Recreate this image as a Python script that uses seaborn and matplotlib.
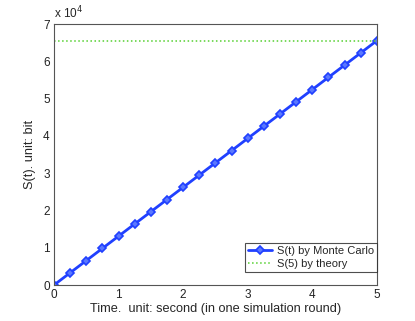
import numpy as np
import pandas as pd
import matplotlib
matplotlib.use('Agg')
import matplotlib.pyplot as plt
import seaborn as sns

# data
t = [0, 0.25, 0.5, 0.75, 1.0, 1.25, 1.5, 1.75, 2.0, 2.25, 2.5,
     2.75, 3.0, 3.25, 3.5, 3.75, 4.0, 4.25, 4.5, 4.75, 5.0]
s_mc = [0, 3277, 6554, 9830, 13107, 16384, 19661, 22938, 26214, 29491, 32768,
        36045, 39322, 42598, 45875, 49152, 52429, 55706, 58982, 62259, 65536]
theory_t = [0, 5]
theory_s = [65536, 65536]
yticks = [0, 10000, 20000, 30000, 40000, 50000, 60000, 70000]
ytick_labels = ['0', '1', '2', '3', '4', '5', '6', '7']

sns.set_style('white')
plt.rcParams['font.family'] = ['Liberation Sans', 'DejaVu Sans']
plt.rcParams['font.size'] = 8.5

fig = plt.figure(figsize=(4.15, 3.21), dpi=100)
ax = fig.add_axes([0.130, 0.112, 0.778, 0.813])

df = pd.DataFrame({'t': t, 's': s_mc})
sns.lineplot(data=df, x='t', y='s', ax=ax, color='#2040ff', linewidth=2,
             marker='D', markersize=4, markerfacecolor='#5a78ff',
             markeredgecolor='#2040ff', markeredgewidth=1.2,
             label='S(t) by Monte Carlo')
df2 = pd.DataFrame({'t': theory_t, 's': theory_s})
sns.lineplot(data=df2, x='t', y='s', ax=ax, color='#55d030', linewidth=1.1,
             linestyle=':', label='S(5) by theory')

ax.set_xlim(0, 5)
ax.set_ylim(0, 70000)
ax.set_yticks(yticks)
ax.set_yticklabels(ytick_labels)
ax.set_xticks([0, 1, 2, 3, 4, 5])
ax.tick_params(direction='in', length=3, width=0.6, colors='#222222',
               labelsize=8.5, pad=3)
for sp in ax.spines.values():
    sp.set_visible(True)
    sp.set_color('#555555')
    sp.set_linewidth(0.8)

ax.set_xlabel('Time.  unit: second (in one simulation round)', fontsize=9.2, labelpad=1)
ax.set_ylabel('S(t). unit: bit', fontsize=9.2, labelpad=5)
ax.text(0.0, 1.01, 'x 10$^4$', transform=ax.transAxes, fontsize=8.5,
        ha='left', va='bottom')

leg = ax.legend(loc='lower right', fontsize=8, frameon=True, fancybox=False,
                borderpad=0.25, labelspacing=0.3, handlelength=2.2,
                handletextpad=0.4, borderaxespad=0.0,
                bbox_to_anchor=(1.0, 0.05))
leg.get_frame().set_edgecolor('#222222')
leg.get_frame().set_linewidth(0.8)

fig.savefig('out.png', dpi=100)
